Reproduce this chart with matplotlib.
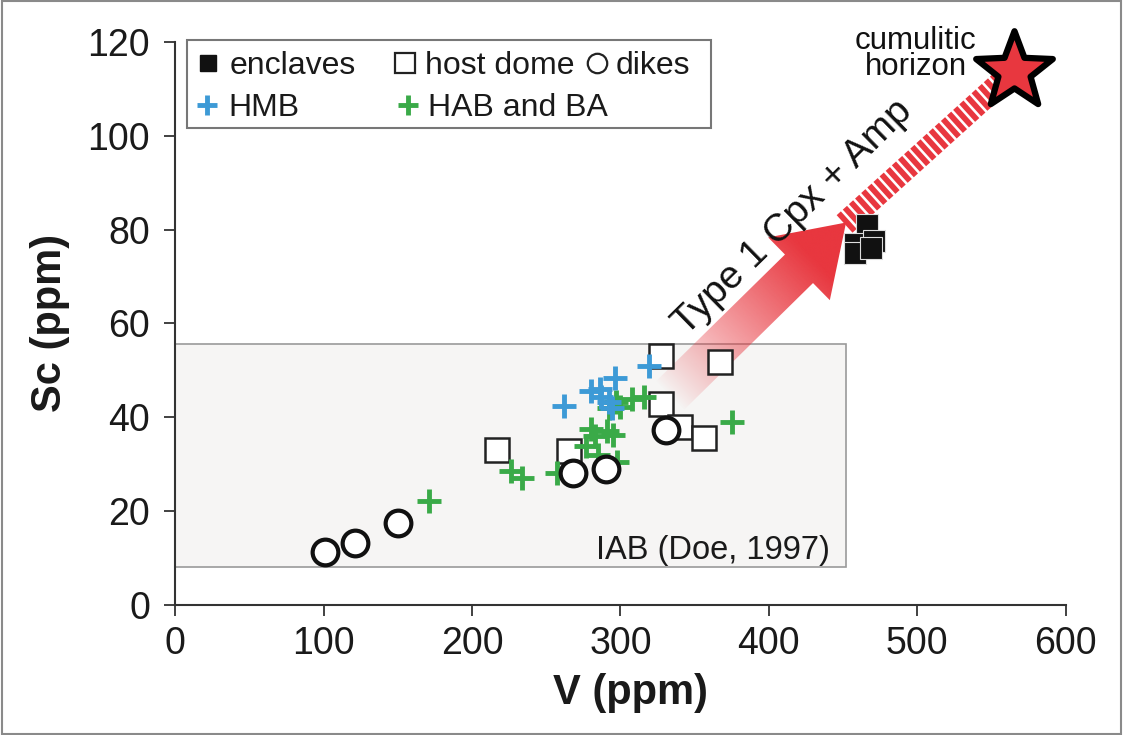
import numpy as np
import matplotlib
matplotlib.use("Agg")
import matplotlib.pyplot as plt
from matplotlib.patches import Rectangle, Polygon
from matplotlib.path import Path

plt.rcParams['font.family'] = ['Liberation Sans', 'DejaVu Sans']

# ---- data (V ppm, Sc ppm) ----
enclaves_v = [466, 458, 471, 458, 469]
enclaves_sc = [81.0, 77.0, 77.5, 75.0, 76.0]

host_v = [217, 265, 327, 367, 327, 340, 356]
host_sc = [33.0, 32.8, 53.0, 51.8, 42.9, 38.0, 35.6]

dikes_v = [101, 121, 150, 268, 290, 331]
dikes_sc = [11.3, 13.2, 17.5, 28.1, 29.0, 37.3]

hmb_v = [262, 280, 296, 287, 292, 294, 286, 319]
hmb_sc = [42.5, 45.5, 48.3, 44.3, 43.2, 42.0, 46.0, 51.0]

hab_v = [171, 226, 234, 257, 277, 280, 283, 291, 295, 298, 292, 297, 300, 308, 316, 375, 285]
hab_sc = [22.2, 28.5, 27.0, 28.2, 33.8, 37.5, 36.0, 37.0, 36.2, 30.5, 42.0, 43.2, 42.2, 43.8, 44.4, 39.0, 32.0]

iab_box = (0, 8, 452, 55.6)          # V min, Sc min, V max, Sc max
arrow_tail = (333, 44.5)
arrow_tip = (452, 81.5)
star_pos = (565, 113.8)

RED = '#e8373f'
BLUE = '#3d9ad6'
GREEN = '#3aaa48'
INK = '#1a1a1a'

fig = plt.figure(figsize=(11.23, 7.35), dpi=100)
ax = fig.add_axes([0.156, 0.177, 0.793, 0.766])
ax.set_xlim(0, 600)
ax.set_ylim(0, 120)

for s in ('top', 'right'):
    ax.spines[s].set_visible(False)
for s in ('left', 'bottom'):
    ax.spines[s].set_color('#333333')
    ax.spines[s].set_linewidth(1.5)
ax.set_xticks(np.arange(0, 601, 100))
ax.set_yticks(np.arange(0, 121, 20))
ax.tick_params(direction='out', length=8, width=1.3, colors='#333333',
               labelsize=27, labelcolor=INK, pad=7)
ax.tick_params(axis='y', pad=10)
ax.set_xlabel('V (ppm)', fontsize=30, fontweight='bold', labelpad=8, color=INK)
ax.xaxis.label.set_x(0.511)
ax.set_ylabel('Sc (ppm)', fontsize=30, fontweight='bold', labelpad=13, color=INK)

# IAB field
x0, y0, x1, y1 = iab_box
ax.add_patch(Rectangle((x0, y0), x1 - x0, y1 - y0, facecolor='#f6f5f4',
                       edgecolor='#9a9a9a', lw=1.2, zorder=1))
ax.text(x1 - 11, y0 + 1.8, 'IAB (Doe, 1997)', ha='right', va='baseline',
        fontsize=23.5, color=INK, zorder=2)

# gradient arrow, built in display space so its shape is not skewed
T = ax.transData
p0 = T.transform(arrow_tail)
p1 = T.transform(arrow_tip)
d = p1 - p0
L = np.hypot(*d)
u = d / L
n = np.array([-u[1], u[0]])
w, hw, hl = 20, 44, 66
pts = np.array([p0 + n * w, p1 - u * hl + n * w, p1 - u * hl + n * hw, p1,
                p1 - u * hl - n * hw, p1 - u * hl - n * w, p0 - n * w])
pts_data = T.inverted().transform(pts)
poly = Polygon(pts_data, closed=True, facecolor='none', edgecolor='none', zorder=2)
ax.add_patch(poly)

gx = np.linspace(pts_data[:, 0].min(), pts_data[:, 0].max(), 300)
gy = np.linspace(pts_data[:, 1].min(), pts_data[:, 1].max(), 300)
GX, GY = np.meshgrid(gx, gy)
disp = T.transform(np.column_stack([GX.ravel(), GY.ravel()]))
t = ((disp - p0) @ u) / L
t = np.clip(t, 0, 1).reshape(GX.shape)
rgba = np.zeros(GX.shape + (4,))
rgba[..., :3] = matplotlib.colors.to_rgb(RED)
rgba[..., 3] = np.clip(t * 1.25, 0, 1) ** 0.9
im = ax.imshow(rgba, extent=[gx[0], gx[-1], gy[0], gy[-1]], origin='lower',
               aspect='auto', zorder=2, interpolation='bilinear')
im.set_clip_path(poly)
ax.set_xlim(0, 600)
ax.set_ylim(0, 120)

# striped band up to the cumulate horizon
ax.plot([arrow_tip[0] - 1, star_pos[0]], [arrow_tip[1] - 0.3, star_pos[1]],
        color=RED, lw=17, linestyle=(0, (0.24, 0.11)),
        dash_capstyle='butt', solid_capstyle='butt', zorder=2, clip_on=False)

ang = np.degrees(np.arctan2(d[1], d[0]))
ax.text(416, 82.5, 'Type 1 Cpx + Amp', rotation=ang, rotation_mode='anchor',
        ha='center', va='center', fontsize=28, color='#111111', zorder=5)

# samples
ax.plot(host_v, host_sc, ls='none', marker='s', ms=17, mfc='white',
        mec='#222222', mew=1.8, zorder=3)
ax.plot(hab_v, hab_sc, ls='none', marker='+', ms=17, mec=GREEN, mew=3.5, zorder=4)
ax.plot(hmb_v, hmb_sc, ls='none', marker='+', ms=17, mec=BLUE, mew=3.5, zorder=4)
ax.plot(dikes_v, dikes_sc, ls='none', marker='o', ms=18.5, mfc='white',
        mec='#111111', mew=3.0, zorder=5)
ax.plot(enclaves_v, enclaves_sc, ls='none', marker='s', ms=16.5, mfc='#111111',
        mec='#dddddd', mew=0.8, zorder=5)

# cumulitic horizon star
star = Path.unit_regular_star(5, 0.42)
ax.plot(*star_pos, marker=star, ms=58, mfc=RED, mec='black', mew=4.5,
        zorder=6, clip_on=False)
ax.text(499, 117.4, 'cumulitic\nhorizon', ha='center', va='center',
        fontsize=22.5, linespacing=0.82, color='#111111', zorder=6, clip_on=False)


# legend box laid out in axes-fraction coordinates
def fx(px):
    return (px - 175) / 891


def fy(py):
    return (605 - py) / 563


A = ax.transAxes
ax.add_patch(Rectangle((fx(187), fy(128)), fx(711) - fx(187), fy(40) - fy(128),
                       transform=A, facecolor='white', edgecolor='#777777',
                       lw=1.5, zorder=7, clip_on=False))
legend_rows = [
    # marker x, row y, text x, label, marker kwargs
    (208, 63, 229, 'enclaves', dict(marker='s', ms=12, mfc='#111111', mec='#111111')),
    (405, 63, 425, 'host dome', dict(marker='s', ms=15, mfc='white', mec='#222222', mew=1.6)),
    (597, 63, 616, 'dikes', dict(marker='o', ms=14, mfc='white', mec='#222222', mew=1.6)),
    (207, 105, 228, 'HMB', dict(marker='+', ms=15, mec=BLUE, mew=3.5)),
    (408, 105, 428, 'HAB and BA', dict(marker='+', ms=15, mec=GREEN, mew=3.5)),
]
for mx, my, tx, label, kw in legend_rows:
    ax.plot(fx(mx), fy(my), ls='none', transform=A, zorder=8, clip_on=False, **kw)
    ax.text(fx(tx), fy(my), label, transform=A, ha='left', va='center_baseline',
            fontsize=23, color=INK, zorder=8)

fig.patches.append(Rectangle((0.002, 0.002), 0.996, 0.996, transform=fig.transFigure,
                             fill=False, edgecolor='#8a8a8a', lw=1.5))

fig.savefig('out.png', dpi=100)
